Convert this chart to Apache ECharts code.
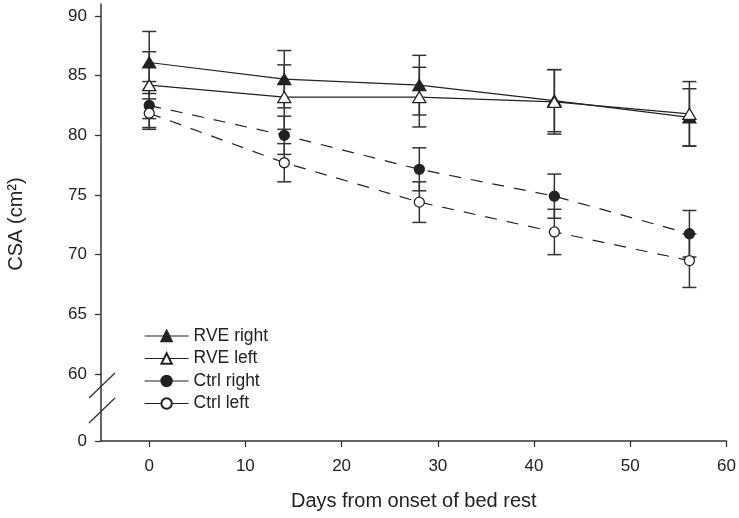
<!DOCTYPE html>
<html>
<head>
<meta charset="utf-8">
<script src="https://cdn.jsdelivr.net/npm/echarts@6/dist/echarts.min.js"></script>
<style>
  html, body { margin: 0; padding: 0; background: #fff; }
  #main { width: 739px; height: 518px; }
</style>
</head>
<body>
<div id="main"></div>
<script>
// values (mean and error half-width)
var days = [0, 14, 28, 42, 56];
var rveRight = [86.1, 84.7, 84.2, 82.9, 81.5];
var rveRightErr = [2.6, 2.4, 2.5, 2.6, 2.4];
var rveLeft = [84.2, 83.2, 83.2, 82.8, 81.8];
var rveLeftErr = [2.8, 2.7, 2.5, 2.7, 2.7];
var ctrlRight = [82.5, 80.0, 77.15, 74.9, 71.75];
var ctrlRightErr = [2.0, 1.6, 1.8, 1.85, 1.95];
var ctrlLeft = [81.85, 77.7, 74.4, 71.9, 69.5];
var ctrlLeftErr = [1.2, 1.6, 1.7, 1.9, 2.25];
var xTicks = [0, 10, 20, 30, 40, 50, 60];
var yTicks = [60, 65, 70, 75, 80, 85, 90];
var names = ['RVE right', 'RVE left', 'Ctrl right', 'Ctrl left'];

var font = 'Liberation Sans, Arial, sans-serif';
var ink = '#222';

function pairs(vals) {
  return days.map(function (d, i) { return [d, vals[i]]; });
}

function errBars(vals, errs) {
  var data = days.map(function (d, i) { return [d, vals[i] - errs[i], vals[i] + errs[i]]; });
  return {
    type: 'custom',
    xAxisIndex: 0,
    yAxisIndex: 0,
    z: 1,
    silent: true,
    data: data,
    renderItem: function (params, api) {
      var lo = api.coord([api.value(0), api.value(1)]);
      var hi = api.coord([api.value(0), api.value(2)]);
      var w = 7;
      var st = { stroke: '#333', lineWidth: 1.5 };
      return {
        type: 'group',
        children: [
          { type: 'line', shape: { x1: lo[0], y1: lo[1], x2: hi[0], y2: hi[1] }, style: st },
          { type: 'line', shape: { x1: lo[0] - w, y1: lo[1], x2: lo[0] + w, y2: lo[1] }, style: st },
          { type: 'line', shape: { x1: hi[0] - w, y1: hi[1], x2: hi[0] + w, y2: hi[1] }, style: st }
        ]
      };
    }
  };
}

function lineSeries(name, vals, symbol, filled, dashed) {
  var tri = symbol === 'triangle';
  return {
    name: name,
    type: 'line',
    xAxisIndex: 0,
    yAxisIndex: 0,
    z: 3,
    data: pairs(vals),
    symbol: symbol,
    symbolSize: tri ? [13, 11] : 10,
    showAllSymbol: true,
    lineStyle: { color: ink, width: 1.2, type: dashed ? [12, 10] : 'solid' },
    itemStyle: { color: filled ? ink : '#fff', borderColor: ink, borderWidth: 1.3 },
    emphasis: { disabled: true }
  };
}

var chart = echarts.init(document.getElementById('main'));

var axisLineStyle = { color: '#333', width: 1.5 };
var tickStyle = { color: '#333', width: 1.3 };

var option = {
  animation: false,
  textStyle: { fontFamily: font },
  grid: [
    { left: 101, right: 11, top: 4, height: 370 },
    { left: 101, right: 11, top: 374, height: 67 }
  ],
  xAxis: [
    { gridIndex: 0, type: 'value', min: -5, max: 60, show: false },
    {
      gridIndex: 1, type: 'value', min: -5, max: 60,
      name: 'Days from onset of bed rest',
      nameLocation: 'middle',
      nameGap: 50,
      nameMoveOverlap: false,
      nameTextStyle: { fontSize: 20, color: ink, fontFamily: font },
      axisLine: { onZero: false, lineStyle: axisLineStyle },
      axisTick: { length: 6, customValues: xTicks, lineStyle: tickStyle },
      axisLabel: { customValues: xTicks, margin: 17, fontSize: 17, color: ink, fontFamily: font },
      splitLine: { show: false }
    }
  ],
  yAxis: [
    {
      gridIndex: 0, type: 'value', min: 60, max: 91,
      axisLine: { show: true, onZero: false, lineStyle: axisLineStyle },
      axisTick: { show: true, length: 6, customValues: yTicks, lineStyle: tickStyle },
      axisLabel: { customValues: yTicks, margin: 14, fontSize: 17, color: ink, fontFamily: font },
      splitLine: { show: false }
    },
    {
      gridIndex: 1, type: 'value', min: 0, max: 1,
      axisLine: { show: true, onZero: false, lineStyle: axisLineStyle },
      axisTick: { show: true, length: 6, customValues: [0], lineStyle: tickStyle },
      axisLabel: { customValues: [0], margin: 14, fontSize: 17, color: ink, fontFamily: font },
      splitLine: { show: false }
    }
  ],
  legend: {
    data: names,
    orient: 'vertical',
    left: 139,
    top: 322,
    itemWidth: 44,
    itemHeight: 13,
    itemGap: 4.5,
    selectedMode: false,
    lineStyle: { type: 'solid', width: 1.2, color: ink },
    textStyle: { fontSize: 17.5, color: ink, fontFamily: font }
  },
  graphic: [
    {
      type: 'text',
      x: 16, y: 224,
      rotation: Math.PI / 2,
      style: { text: 'CSA (cm²)', fontSize: 20, fill: ink, fontFamily: font, align: 'center', verticalAlign: 'middle' }
    },
    { type: 'line', shape: { x1: 89, y1: 398, x2: 115, y2: 373 }, style: { stroke: '#333', lineWidth: 1.3 } },
    { type: 'line', shape: { x1: 89, y1: 423, x2: 115, y2: 398 }, style: { stroke: '#333', lineWidth: 1.3 } }
  ],
  series: [
    errBars(rveRight, rveRightErr),
    errBars(rveLeft, rveLeftErr),
    errBars(ctrlRight, ctrlRightErr),
    errBars(ctrlLeft, ctrlLeftErr),
    lineSeries('RVE right', rveRight, 'triangle', true, false),
    lineSeries('RVE left', rveLeft, 'triangle', false, false),
    lineSeries('Ctrl right', ctrlRight, 'circle', true, true),
    lineSeries('Ctrl left', ctrlLeft, 'circle', false, true)
  ]
};

chart.setOption(option);
</script>
</body>
</html>
